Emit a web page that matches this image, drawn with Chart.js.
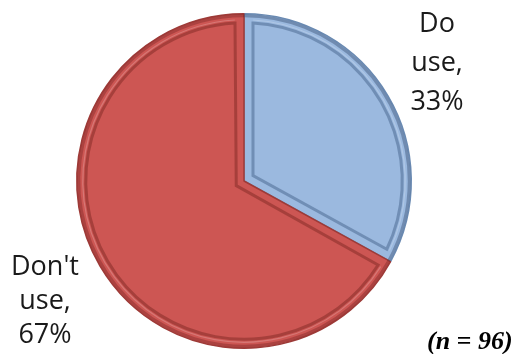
<!DOCTYPE html>
<html>
<head>
<meta charset="utf-8">
<script src="https://cdn.jsdelivr.net/npm/chart.js@4/dist/chart.umd.min.js"></script>
<style>
html,body{margin:0;padding:0;background:#fff;}
#wrap{position:relative;width:522px;height:354px;}
</style>
</head>
<body>
<div id="wrap"><canvas id="c" width="522" height="354"></canvas></div>
<script>
const categories = ["Do use", "Don't use"];
const values = [33, 67];
const sliceLabels = [["Do", "use,", "33%"], ["Don't", "use,", "67%"]];
const noteText = "(n = 96)";

const fills = ["#9bb9df", "#cd5653"];
const edges = ["#6a8ab2", "#9e3b38"];

const bevel = {
  id: "bevel",
  afterDatasetsDraw(chart) {
    const ctx = chart.ctx;
    const meta = chart.getDatasetMeta(0);
    meta.data.forEach((arc, i) => {
      const p = arc.getProps(["x", "y", "startAngle", "endAngle", "outerRadius"], true);
      const inset = 9;
      const r = p.outerRadius - inset;
      const a0 = p.startAngle, a1 = p.endAngle;
      ctx.save();
      const off = inset / Math.sin(Math.min(Math.PI / 2, (a1 - a0) / 2));
      const bis = (a0 + a1) / 2;
      const ix = p.x + Math.cos(bis) * Math.min(off, 14);
      const iy = p.y + Math.sin(bis) * Math.min(off, 14);
      ctx.beginPath();
      ctx.moveTo(ix, iy);
      ctx.arc(p.x, p.y, r, a0 + inset / r, a1 - inset / r);
      ctx.closePath();
      ctx.lineWidth = 3;
      ctx.strokeStyle = i === 0 ? "rgba(70,100,140,0.5)" : "rgba(120,35,32,0.45)";
      ctx.stroke();
      ctx.beginPath();
      ctx.arc(p.x, p.y, r + 3, a0 + inset / r, a1 - inset / r);
      ctx.lineWidth = 1.2;
      ctx.strokeStyle = "rgba(255,255,255,0.2)";
      ctx.stroke();
      ctx.beginPath();
      ctx.arc(p.x, p.y, p.outerRadius - 2, a0, a1);
      ctx.lineWidth = 3;
      ctx.strokeStyle = i === 0 ? "rgba(60,85,120,0.45)" : "rgba(110,30,28,0.35)";
      ctx.stroke();
      ctx.restore();
    });
  }
};

const labelsPlugin = {
  id: "sliceText",
  afterDraw(chart) {
    const ctx = chart.ctx;
    ctx.save();
    ctx.fillStyle = "#1a1a1a";
    ctx.font = "27px 'Open Sans', 'DejaVu Sans', sans-serif";
    ctx.textAlign = "center";
    ctx.textBaseline = "alphabetic";
    const pos = [{x: 437, y: 32, lh: 39}, {x: 45, y: 275, lh: 34}];
    sliceLabels.forEach((lines, i) => {
      lines.forEach((t, j) => ctx.fillText(t, pos[i].x, pos[i].y + j * pos[i].lh));
    });
    ctx.font = "italic bold 26px 'Liberation Serif', 'Times New Roman', serif";
    ctx.textAlign = "left";
    ctx.fillStyle = "#000";
    ctx.fillText(noteText, 427, 349);
    ctx.restore();
  }
};

new Chart(document.getElementById("c"), {
  type: "pie",
  data: {
    labels: categories,
    datasets: [{
      data: values,
      backgroundColor: fills,
      borderColor: edges,
      borderWidth: 1.5,
      hoverOffset: 0
    }]
  },
  options: {
    responsive: false,
    animation: false,
    layout: {padding: {left: 75, right: 109, top: 13, bottom: 5}},
    plugins: {legend: {display: false}, tooltip: {enabled: false}}
  },
  plugins: [bevel, labelsPlugin]
});
</script>
</body>
</html>
